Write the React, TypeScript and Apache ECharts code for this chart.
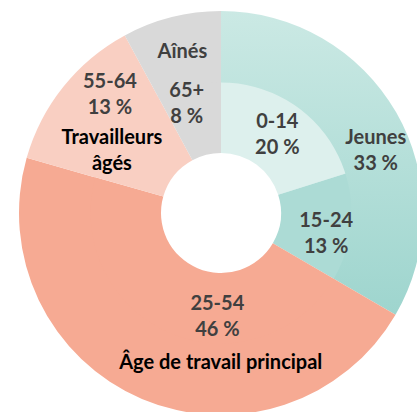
import React, { useEffect, useRef } from "react";
import * as echarts from "echarts";

const innerCategories = ["0-14", "15-24", "25-54", "55-64", "65+"];
const innerValues = [20.1, 13.3, 46.0, 12.7, 7.9];

const outerCategories = ["Jeunes", "Âge de travail principal", "Travailleurs âgés", "Aînés"];
const outerValues = [33.4, 46.0, 12.7, 7.9];
const outerShowPercent = [true, false, false, false];
const outerLabelText = ["Jeunes", "Âge de travail principal", "Travailleurs\nâgés", "Aînés"];

const innerColors = ["#ddf0ed", "#acdbd5", "#f6aa93", "#f9cfc2", "#d9d9d9"];
const outerColors: any[] = [
  {
    type: "linear", x: 0, y: 0, x2: 0, y2: 1,
    colorStops: [
      { offset: 0, color: "#cbe9e4" },
      { offset: 1, color: "#9ed5ce" },
    ],
  },
  "#f6aa93",
  "#f9cfc2",
  "#d9d9d9",
];
const innerTextColors = ["#404040", "#404040", "#404040", "#404040", "#404040"];
const outerTextColors = ["#404040", "#000000", "#000000", "#404040"];

const innerOffsets = [[-2, 0], [7, 8], [35, 11], [-34, -58], [-10, -15]];
const outerOffsets = [[8, 20], [66, -8], [23, 42], [3, 1]];

const FONT = "Lato";

export default function App() {
  const ref = useRef<HTMLDivElement>(null);
  useEffect(() => {
    document.body.style.margin = "0";
    const chart = echarts.init(ref.current!, null, { renderer: "svg" });
    const labelBase = {
      show: true,
      position: "inside",
      fontFamily: FONT,
      fontWeight: "bold",
      fontSize: 20,
      lineHeight: 26,
      align: "center",
    };
    chart.setOption({
      animation: false,
      series: [
        {
          type: "pie",
          center: [221, 213],
          radius: [60, 131.5],
          startAngle: 90,
          clockwise: true,
          avoidLabelOverlap: false,
          labelLine: { show: false },
          emphasis: { disabled: true },
          itemStyle: { borderWidth: 0 },
          data: innerCategories.map((name, i) => ({
            name,
            value: innerValues[i],
            itemStyle: { color: innerColors[i] },
            label: { ...labelBase, color: innerTextColors[i] },
          })),
          label: {
            ...labelBase,
            formatter: (p: any) => `${p.name}\n${Math.round(p.value)} %`,
          },
          labelLayout: (p: any) => ({
            dx: innerOffsets[p.dataIndex][0],
            dy: innerOffsets[p.dataIndex][1],
          }),
        },
        {
          type: "pie",
          center: [221, 213],
          radius: [130.5, 202],
          startAngle: 90,
          clockwise: true,
          avoidLabelOverlap: false,
          labelLine: { show: false },
          emphasis: { disabled: true },
          itemStyle: { borderWidth: 0 },
          data: outerCategories.map((name, i) => ({
            name,
            value: outerValues[i],
            itemStyle: { color: outerColors[i] },
            label: { ...labelBase, color: outerTextColors[i] },
          })),
          label: {
            ...labelBase,
            formatter: (p: any) =>
              outerLabelText[p.dataIndex] +
              (outerShowPercent[p.dataIndex] ? `\n${Math.round(p.value)} %` : ""),
          },
          labelLayout: (p: any) => ({
            dx: outerOffsets[p.dataIndex][0],
            dy: outerOffsets[p.dataIndex][1],
          }),
        },
      ],
    });
    return () => chart.dispose();
  }, []);
  return <div ref={ref} style={{ width: 417, height: 412 }} />;
}
